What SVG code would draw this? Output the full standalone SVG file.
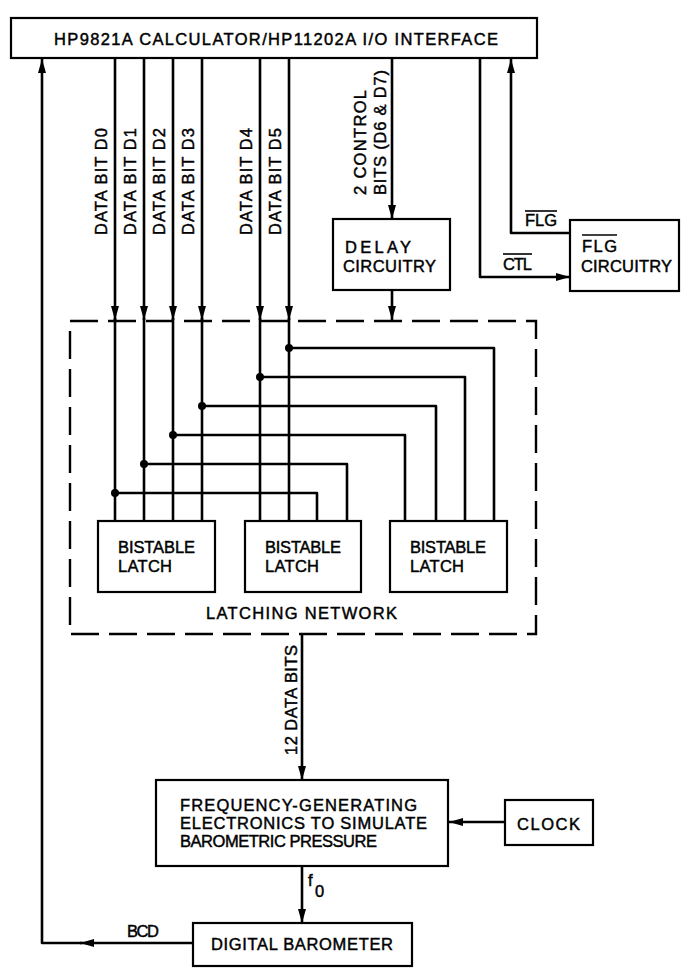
<svg xmlns="http://www.w3.org/2000/svg" width="685" height="971" viewBox="0 0 685 971">
<style>
  .box { fill: #fff; stroke: #000; stroke-width: 2.2; }
  .ln { fill: none; stroke: #000; stroke-width: 2.6; stroke-linejoin: round; }
  .dash { fill: none; stroke: #000; stroke-width: 2.4; stroke-dasharray: 28 10; }
  .t { font-family: "Liberation Sans", Arial, sans-serif; font-size: 16.5px; fill: #000; stroke: #000; stroke-width: 0.45; }
  .ob { stroke: #000; stroke-width: 1.6; }
  .dot { fill: #000; }
</style>
<defs>
  <marker id="ah" viewBox="0 0 14 8" refX="14" refY="4" markerWidth="14" markerHeight="8" markerUnits="userSpaceOnUse" orient="auto">
    <path d="M0,0 L14,4 L0,8 z" fill="#000"/>
  </marker>
</defs>

<g id="connectors">
  <!-- BCD return -->
  <path class="ln" d="M193,943 H80" marker-end="url(#ah)"/>
  <path class="ln" d="M82,943 H42 V59" marker-end="url(#ah)"/>
  <!-- data bits -->
  <path class="ln" d="M115,58 V320" marker-end="url(#ah)"/>
  <path class="ln" d="M144,58 V320" marker-end="url(#ah)"/>
  <path class="ln" d="M173,58 V320" marker-end="url(#ah)"/>
  <path class="ln" d="M202,58 V320" marker-end="url(#ah)"/>
  <path class="ln" d="M260,58 V320" marker-end="url(#ah)"/>
  <path class="ln" d="M289,58 V320" marker-end="url(#ah)"/>
  <path class="ln" d="M115,318 V521"/>
  <path class="ln" d="M144,318 V521"/>
  <path class="ln" d="M173,318 V521"/>
  <path class="ln" d="M202,318 V521"/>
  <path class="ln" d="M260,318 V521"/>
  <path class="ln" d="M289,318 V521"/>
  <!-- branches -->
  <path class="ln" d="M115,493 H317 V521"/>
  <path class="ln" d="M144,464 H347 V521"/>
  <path class="ln" d="M173,435 H405 V521"/>
  <path class="ln" d="M202,406 H436 V521"/>
  <path class="ln" d="M260,377 H465 V521"/>
  <path class="ln" d="M289,348 H494 V521"/>
  <circle class="dot" cx="115" cy="493" r="4"/>
  <circle class="dot" cx="144" cy="464" r="4"/>
  <circle class="dot" cx="173" cy="435" r="4"/>
  <circle class="dot" cx="202" cy="406" r="4"/>
  <circle class="dot" cx="260" cy="377" r="4"/>
  <circle class="dot" cx="289" cy="348" r="4"/>
  <!-- control bits -->
  <path class="ln" d="M392,58 V219" marker-end="url(#ah)"/>
  <path class="ln" d="M392,290 V320" marker-end="url(#ah)"/>
  <!-- CTL and FLG -->
  <path class="ln" d="M480,58 V277 H570" marker-end="url(#ah)"/>
  <path class="ln" d="M570,233 H511 V59" marker-end="url(#ah)"/>
  <!-- 12 data bits -->
  <path class="ln" d="M302,635 V780" marker-end="url(#ah)"/>
  <!-- clock -->
  <path class="ln" d="M505,822 H449" marker-end="url(#ah)"/>
  <!-- f0 -->
  <path class="ln" d="M302,866 V923" marker-end="url(#ah)"/>
</g>

<g id="interface">
  <rect class="box" x="11" y="18" width="526" height="40"/>
  <text class="t" x="54" y="45" font-size="17.5" textLength="444">HP9821A CALCULATOR/HP11202A I/O INTERFACE</text>
</g>

<g id="labels">
  <text class="t" transform="translate(107,235) rotate(-90)" textLength="107">DATA BIT D0</text>
  <text class="t" transform="translate(136,235) rotate(-90)" textLength="107">DATA BIT D1</text>
  <text class="t" transform="translate(165,235) rotate(-90)" textLength="107">DATA BIT D2</text>
  <text class="t" transform="translate(194,235) rotate(-90)" textLength="107">DATA BIT D3</text>
  <text class="t" transform="translate(252,235) rotate(-90)" textLength="107">DATA BIT D4</text>
  <text class="t" transform="translate(281,235) rotate(-90)" textLength="107">DATA BIT D5</text>
  <text class="t" transform="translate(366,195) rotate(-90)" textLength="105">2 CONTROL</text>
  <text class="t" transform="translate(386,195) rotate(-90)" textLength="125">BITS (D6 &amp; D7)</text>
  <text class="t" x="525" y="226" textLength="32">FLG</text>
  <line class="ob" x1="525" y1="211" x2="557" y2="211"/>
  <text class="t" x="503" y="270" textLength="29">CTL</text>
  <line class="ob" x1="503" y1="254" x2="532" y2="254"/>
  <text class="t" transform="translate(297,755) rotate(-90)" textLength="110">12 DATA BITS</text>
  <text class="t" x="308" y="886" font-size="14">f</text>
  <text class="t" x="315" y="897" font-size="12">0</text>
  <text class="t" x="127" y="937" font-size="15" textLength="32">BCD</text>
</g>

<g id="delay">
  <rect class="box" x="333" y="219" width="117" height="71"/>
  <text class="t" x="345" y="253" textLength="66">DELAY</text>
  <text class="t" x="343" y="272" textLength="93">CIRCUITRY</text>
</g>

<g id="flg">
  <rect class="box" x="570" y="220" width="109" height="71"/>
  <text class="t" x="582" y="252" textLength="35">FLG</text>
  <line class="ob" x1="582" y1="235" x2="617" y2="235"/>
  <text class="t" x="581" y="272" textLength="91">CIRCUITRY</text>
</g>

<g id="latching-network">
  <rect class="dash" x="70" y="321" width="466" height="313"/>
  <text class="t" x="206" y="619" textLength="191">LATCHING NETWORK</text>
</g>

<g id="latch1">
  <rect class="box" x="98" y="521" width="117" height="71"/>
  <text class="t" x="118" y="553" textLength="77">BISTABLE</text>
  <text class="t" x="118" y="572" textLength="54">LATCH</text>
</g>
<g id="latch2">
  <rect class="box" x="245" y="521" width="116" height="71"/>
  <text class="t" x="265" y="553" textLength="76">BISTABLE</text>
  <text class="t" x="265" y="572" textLength="54">LATCH</text>
</g>
<g id="latch3">
  <rect class="box" x="390" y="521" width="117" height="71"/>
  <text class="t" x="410" y="553" textLength="76">BISTABLE</text>
  <text class="t" x="410" y="572" textLength="54">LATCH</text>
</g>

<g id="freq">
  <rect class="box" x="156" y="780" width="292" height="86"/>
  <text class="t" x="180" y="811" textLength="237">FREQUENCY-GENERATING</text>
  <text class="t" x="180" y="829" textLength="247">ELECTRONICS TO SIMULATE</text>
  <text class="t" x="180" y="847" textLength="197">BAROMETRIC PRESSURE</text>
</g>

<g id="clock">
  <rect class="box" x="505" y="800" width="88" height="45"/>
  <text class="t" x="517" y="830" textLength="63">CLOCK</text>
</g>

<g id="barometer">
  <rect class="box" x="193" y="923" width="219" height="43"/>
  <text class="t" x="211" y="950" textLength="182">DIGITAL BAROMETER</text>
</g>
</svg>
